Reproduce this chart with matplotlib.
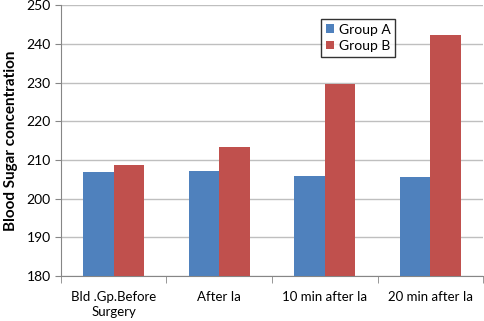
import numpy as np
import matplotlib.pyplot as plt
from matplotlib.ticker import FixedLocator

plt.rcParams['font.family'] = ['Lato', 'DejaVu Sans']

categories = ['Bld .Gp.Before\nSurgery', 'After Ia', '10 min after Ia', '20 min after Ia']
group_a = [206.8, 207.1, 205.9, 205.6]
group_b = [208.8, 213.3, 229.7, 242.4]
yticks = [180, 190, 200, 210, 220, 230, 240, 250]

fig = plt.figure(figsize=(4.84, 3.21), dpi=100)
ax = fig.add_axes([0.126, 0.140, 0.872, 0.844])

x = np.arange(len(categories))
w = 0.29
ax.bar(x - w / 2, group_a, w, color='#4F81BD', label='Group A', zorder=3)
ax.bar(x + w / 2, group_b, w, color='#C0504D', label='Group B', zorder=3)

ax.set_xlim(-0.5, len(categories) - 0.5)
ax.set_ylim(180, 250)
ax.set_yticks(yticks)
ax.yaxis.grid(True, color='#BFBFBF', linewidth=1, zorder=0)

ax.set_xticks(x)
ax.set_xticklabels(categories, fontsize=9.5, linespacing=1.3)
ax.tick_params(axis='x', which='major', length=0, pad=11)
ax.xaxis.set_minor_locator(FixedLocator(np.arange(-0.5, len(categories), 1.0)))
ax.tick_params(axis='x', which='minor', length=5, color='#868686')
ax.tick_params(axis='y', labelsize=10, length=4, color='#868686')

for s in ['top', 'right']:
    ax.spines[s].set_visible(False)
for s in ['left', 'bottom']:
    ax.spines[s].set_color('#868686')

ax.set_ylabel('Blood Sugar concentration', fontsize=11, fontweight='bold', labelpad=6)

leg = ax.legend(loc='upper left', bbox_to_anchor=(0.60, 0.975), fontsize=10,
                frameon=True, fancybox=False, edgecolor='black',
                handlelength=0.6, handleheight=0.6, handletextpad=0.3,
                borderpad=0.35, labelspacing=0.3)
leg.get_frame().set_linewidth(1.0)

fig.savefig('out.png', dpi=100)
